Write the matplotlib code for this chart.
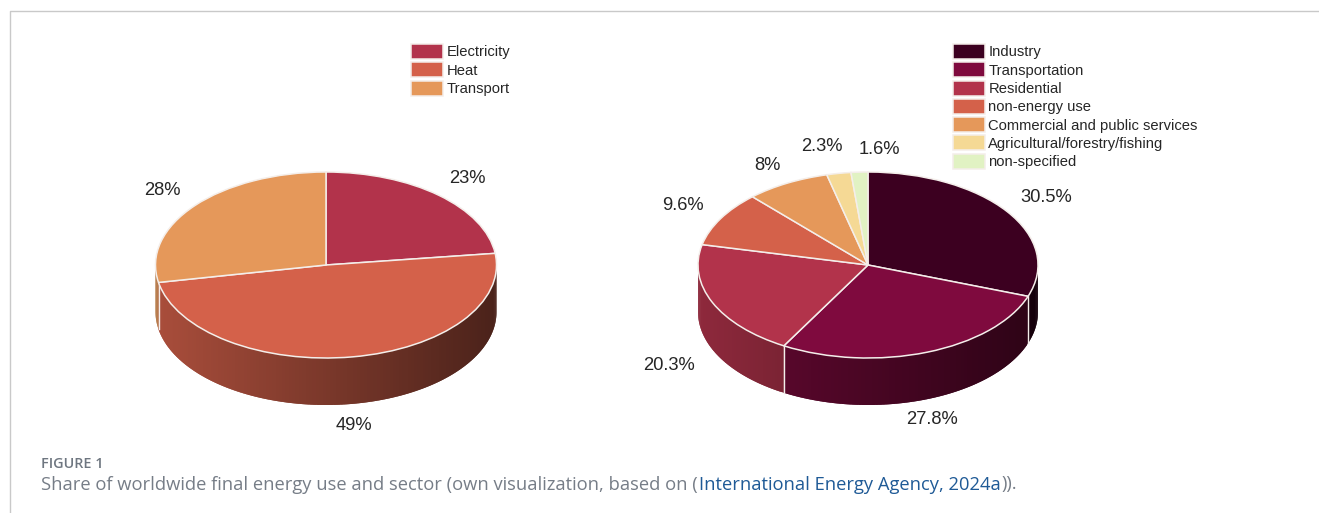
import numpy as np
import matplotlib
matplotlib.use('Agg')
import matplotlib.pyplot as plt
from matplotlib.colors import to_rgb

W, H = 1319, 513

# left pie
names1 = ['Electricity', 'Heat', 'Transport']
values1 = [23, 49, 28]
labels1 = ['23%', '49%', '28%']
colors1 = ['#b2334b', '#d4614a', '#e5985a']

# right pie
names2 = ['Industry', 'Transportation', 'Residential', 'non-energy use',
          'Commercial and public services', 'Agricultural/forestry/fishing', 'non-specified']
values2 = [30.5, 27.8, 20.3, 9.6, 8, 2.3, 1.6]
labels2 = ['30.5%', '27.8%', '20.3%', '9.6%', '8%', '2.3%', '1.6%']
colors2 = ['#3c0020', '#7f0a3e', '#b2334b', '#d4614a', '#e5985a', '#f5d995', '#e1f2c3']

depth = 47 / 93  # wall height, in units of the vertical radius
plt.rcParams['font.family'] = ['Liberation Sans', 'DejaVu Sans']
fig = plt.figure(figsize=(W / 100, H / 100), dpi=100)


def tx(x, y):
    return x / W, 1 - y / H


def draw_pie(cx, cy, rx, ry, values, colors, names, legend_xy):
    ax = fig.add_axes([(cx - rx) / W, 1 - (cy + ry + depth * ry) / H, 2 * rx / W, (2 + depth) * ry / H])
    wedges, _ = ax.pie(values, colors=colors, startangle=90, counterclock=False,
                       wedgeprops={'edgecolor': '#f4eeea', 'linewidth': 1.1, 'clip_on': False, 'zorder': 3})
    ax.set_aspect('auto')
    ax.set_xlim(-1, 1)
    ax.set_ylim(-1 - depth, 1)
    # side wall, thin strips getting darker to the right
    edges = np.cumsum([0] + list(values)) / sum(values) * 2 * np.pi
    for i in range(len(values)):
        a0 = max(edges[i], np.pi / 2)
        a1 = min(edges[i + 1], 3 * np.pi / 2)
        if a1 <= a0:
            continue
        n = max(int((a1 - a0) / 0.02), 1)
        ts = np.linspace(a0, a1, n + 1)
        for j in range(n):
            # each strip overlaps the next one so no seams show
            t = np.array([ts[j], min(ts[j + 1] + 0.02, a1)])
            x = np.sin(t)
            y = np.cos(t)
            shade = 0.575 - 0.225 * x.mean()
            c = np.array(to_rgb(colors[i])) * shade
            ax.fill(np.r_[x, x[::-1]], np.r_[y, y[::-1] - depth], color=c, lw=0, clip_on=False, zorder=1)
        if edges[i + 1] < 3 * np.pi / 2:
            xe = np.sin(edges[i + 1])
            ye = np.cos(edges[i + 1])
            ax.plot([xe, xe], [ye, ye - depth], color='#f4eeea', lw=1, clip_on=False, zorder=2)
    fig.legend(wedges, names, loc='upper left', bbox_to_anchor=tx(*legend_xy), frameon=False,
               fontsize=10.6, handlelength=2.2, handleheight=1.19, labelspacing=0.19,
               handletextpad=0.2, borderpad=0, borderaxespad=0, labelcolor='#262626')
    return ax


draw_pie(326, 265, 170.5, 93, values1, colors1, names1, (411, 44))
draw_pie(868, 265, 170, 93, values2, colors2, names2, (953, 44))

# percent labels
pos1 = [(467, 179), (354, 425), (162, 191)]
pos2 = [(1046, 198), (932, 419), (669, 365), (683, 205), (767, 166), (822, 147), (879, 149)]
for s, p in zip(labels1, pos1):
    fig.text(*tx(*p), s, fontsize=13.2, color='#262626', ha='center', va='center')
for s, p in zip(labels2, pos2):
    fig.text(*tx(*p), s, fontsize=13.2, color='#262626', ha='center', va='center')

# frame lines
fig.add_artist(plt.Line2D([10 / W, 10 / W, 1], [0, 1 - 11 / H, 1 - 11 / H], color='#c9c9c9', lw=1))

# caption
fig.text(*tx(41, 464), 'FIGURE 1', fontsize=10.4, color='#6e7680', family='Open Sans', weight='semibold', va='center')
cap_y = 484.5
fig.text(*tx(41, cap_y), 'Share of worldwide final energy use and sector (own visualization, based on (',
         fontsize=13.2, color='#767d87', family='Open Sans', va='center')
fig.text(*tx(699, cap_y), 'International Energy Agency, 2024a', fontsize=13.2, color='#1f5a96',
         family='Open Sans', va='center')
fig.text(*tx(1001, cap_y), ')).', fontsize=13.2, color='#767d87', family='Open Sans', va='center')

fig.savefig('out.png', dpi=100)
